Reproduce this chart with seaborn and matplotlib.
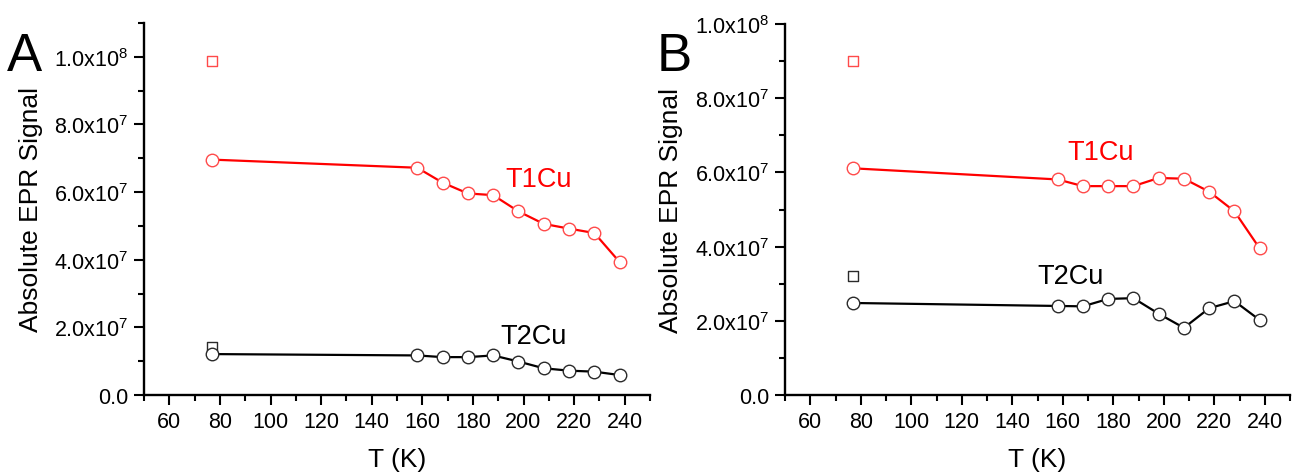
import numpy as np
import pandas as pd
import matplotlib
matplotlib.use("Agg")
import matplotlib.pyplot as plt
from matplotlib.ticker import FixedLocator, MultipleLocator
import seaborn as sns

# ---------------- data ----------------
temps = [77, 158, 168, 178, 188, 198, 208, 218, 228, 238]

a_t1cu = [6.96e7, 6.72e7, 6.28e7, 5.96e7, 5.91e7, 5.43e7, 5.06e7, 4.92e7, 4.79e7, 3.93e7]
a_t2cu = [1.21e7, 1.17e7, 1.12e7, 1.12e7, 1.17e7, 0.99e7, 0.79e7, 0.72e7, 0.69e7, 0.59e7]
a_sq_t = [77]
a_sq_t1cu = [9.89e7]
a_sq_t2cu = [1.43e7]

b_t1cu = [6.11e7, 5.81e7, 5.63e7, 5.63e7, 5.63e7, 5.85e7, 5.83e7, 5.48e7, 4.95e7, 3.95e7]
b_t2cu = [2.48e7, 2.40e7, 2.39e7, 2.59e7, 2.61e7, 2.19e7, 1.81e7, 2.34e7, 2.53e7, 2.02e7]
b_sq_t = [77]
b_sq_t1cu = [8.99e7]
b_sq_t2cu = [3.22e7]

x_ticks = [60, 80, 100, 120, 140, 160, 180, 200, 220, 240]
y_ticks = [0, 2e7, 4e7, 6e7, 8e7, 1e8]
y_tick_labels = ["0.0", "2.0x10$^{7}$", "4.0x10$^{7}$", "6.0x10$^{7}$",
                 "8.0x10$^{7}$", "1.0x10$^{8}$"]
series_names = ["T1Cu", "T2Cu"]
panel_letters = ["A", "B"]
x_label = "T (K)"
y_label = "Absolute EPR Signal"

# ---------------- style ----------------
sns.set_style("ticks")
plt.rcParams["font.family"] = ["Liberation Sans", "DejaVu Sans"]
plt.rcParams["mathtext.fontset"] = "custom"
plt.rcParams["mathtext.rm"] = "Liberation Sans"
plt.rcParams["mathtext.default"] = "regular"
plt.rcParams["text.color"] = "black"
plt.rcParams["axes.labelcolor"] = "black"
plt.rcParams["xtick.color"] = "black"
plt.rcParams["ytick.color"] = "black"
plt.rcParams["xtick.labelcolor"] = "black"
plt.rcParams["ytick.labelcolor"] = "black"

RED = "#FF0000"
RED_EDGE = "#FF4A4A"
BLACK = "#000000"
BLACK_EDGE = "#2A2A2A"

fig = plt.figure(figsize=(12.92, 4.77), dpi=100)
W, H = 1292, 477

axA = fig.add_axes([144 / W, (477 - 396) / H, 506 / W, (396 - 24) / H])
axB = fig.add_axes([785 / W, (477 - 396) / H, 505 / W, (396 - 25) / H])

panels = [
    (axA, a_t1cu, a_t2cu, a_sq_t, a_sq_t1cu, a_sq_t2cu, 1.1e8,
     [(206, 6.4e7), (204, 1.73e7)]),
    (axB, b_t1cu, b_t2cu, b_sq_t, b_sq_t1cu, b_sq_t2cu, 1.0e8,
     [(175, 6.54e7), (163, 3.2e7)]),
]

for ax, t1, t2, sqt, sq1, sq2, ytop, label_pos in panels:
    df = pd.DataFrame({"T": temps, "T1Cu": t1, "T2Cu": t2})
    sns.lineplot(data=df, x="T", y="T1Cu", ax=ax, color=RED, lw=1.6,
                 marker="o", markersize=9, markerfacecolor="white",
                 markeredgecolor=RED_EDGE, markeredgewidth=1.0, zorder=3)
    sns.lineplot(data=df, x="T", y="T2Cu", ax=ax, color=BLACK, lw=1.6,
                 marker="o", markersize=9, markerfacecolor="white",
                 markeredgecolor=BLACK_EDGE, markeredgewidth=1.0, zorder=3)
    sns.scatterplot(x=sqt, y=sq1, ax=ax, marker="s", s=60, facecolor="white",
                    edgecolor=RED_EDGE, linewidth=1.0, zorder=4)
    sns.scatterplot(x=sqt, y=sq2, ax=ax, marker="s", s=60, facecolor="white",
                    edgecolor=BLACK_EDGE, linewidth=1.0, zorder=2)

    ax.set_xlim(50, 250)
    ax.set_ylim(0, ytop)
    ax.xaxis.set_major_locator(FixedLocator(x_ticks))
    ax.xaxis.set_minor_locator(MultipleLocator(10))
    ax.set_yticks(y_ticks)
    ax.set_yticklabels(y_tick_labels)
    ax.yaxis.set_minor_locator(MultipleLocator(1e7))

    for s in ["top", "right"]:
        ax.spines[s].set_visible(False)
    for s in ["left", "bottom"]:
        ax.spines[s].set_linewidth(1.7)
        ax.spines[s].set_color("black")
    ax.tick_params(axis="both", which="major", direction="out", length=7.5,
                   width=1.5, labelsize=15.5, pad=4, color="black",
                   labelcolor="black")
    ax.tick_params(axis="both", which="minor", direction="out", length=4.5,
                   width=1.5, color="black")

    ax.set_xlabel(x_label, fontsize=19, color="black")
    ax.set_ylabel(y_label, fontsize=19, color="black")
    ax.xaxis.set_label_coords(0.5, -0.14)

    (x1, y1), (x2, y2) = label_pos
    ax.text(x1, y1, series_names[0], color=RED, fontsize=19.5,
            ha="center", va="center")
    ax.text(x2, y2, series_names[1], color=BLACK, fontsize=19.5,
            ha="center", va="center")

axA.yaxis.set_label_coords((43 - 144) / 506, 0.5)
axB.yaxis.set_label_coords((683 - 785) / 505, 0.5)

fig.text(7 / W, 1 - 71 / H, panel_letters[0], fontsize=38, va="baseline",
         ha="left", color="black")
fig.text(657 / W, 1 - 71 / H, panel_letters[1], fontsize=38, va="baseline",
         ha="left", color="black")

fig.savefig("out.png", dpi=100)
